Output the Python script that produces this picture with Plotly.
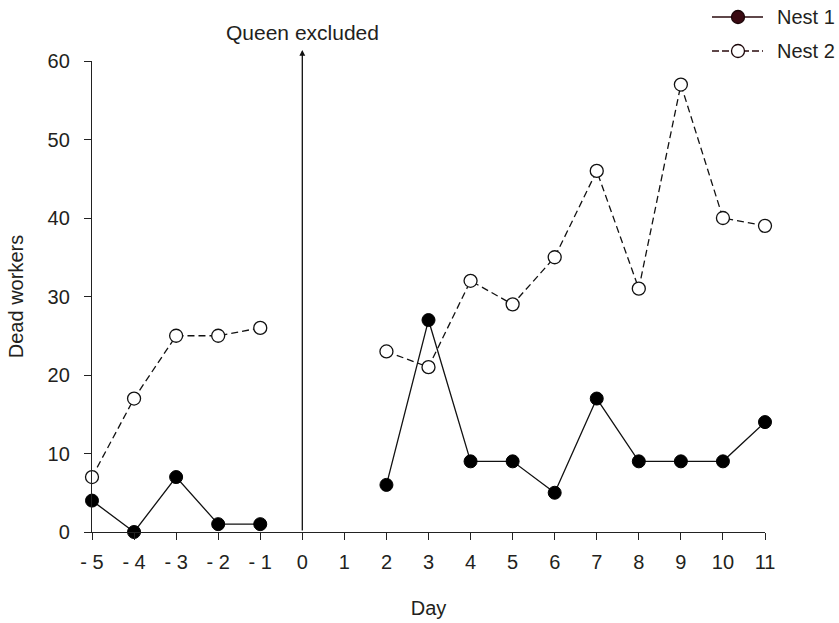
import plotly.graph_objects as go

days = [-5, -4, -3, -2, -1, 0, 1, 2, 3, 4, 5, 6, 7, 8, 9, 10, 11]
nest1 = [4, 0, 7, 1, 1, None, None, 6, 27, 9, 9, 5, 17, 9, 9, 9, 14]
nest2 = [7, 17, 25, 25, 26, None, None, 23, 21, 32, 29, 35, 46, 31, 57, 40, 39]
tick_vals = [-5, -4, -3, -2, -1, 0, 1, 2, 3, 4, 5, 6, 7, 8, 9, 10, 11]
tick_text = ["- 5", "- 4", "- 3", "- 2", "- 1", "0", "1", "2", "3", "4", "5", "6", "7", "8", "9", "10", "11"]
y_ticks = [0, 10, 20, 30, 40, 50, 60]
series_names = ["Nest 1", "Nest 2"]
event_day = 0
event_label = "Queen excluded"

W, H = 839, 623
ML, MR, MT, MB = 92, 74, 61, 91
plot_w = W - ML - MR
plot_h = H - MT - MB


def px_x(px):
    return (px - ML) / plot_w


def px_y(py):
    return (H - MB - py) / plot_h


FONT = "Liberation Sans, Arial, sans-serif"
TXT = "#231f20"
FS = 20

fig = go.Figure()

fig.add_trace(go.Scatter(
    x=days, y=nest2, mode="lines+markers", name=series_names[1], showlegend=False,
    line=dict(color="#111111", width=1.3, dash="7px,4px"),
    marker=dict(symbol="circle", size=13, color="white", line=dict(color="#111111", width=1.3)),
    cliponaxis=False, connectgaps=False))
fig.add_trace(go.Scatter(
    x=days, y=nest1, mode="lines+markers", name=series_names[0], showlegend=False,
    line=dict(color="#111111", width=1.3),
    marker=dict(symbol="circle", size=13, color="black", line=dict(color="black", width=1)),
    cliponaxis=False, connectgaps=False))

# legend (drawn as shapes + text so it does not push the plot margins)
leg_rows = [17, 51]
leg_styles = [
    dict(dash="solid", fill="#3a0a12"),
    dict(dash="7px,3px", fill="white"),
]
for name, row, st in zip(series_names, leg_rows, leg_styles):
    fig.add_shape(type="line", xref="paper", yref="paper",
                  x0=px_x(712), x1=px_x(763), y0=px_y(row), y1=px_y(row),
                  line=dict(color="#2a0a0e", width=1.3, dash=st["dash"]))
    fig.add_shape(type="circle", xref="paper", yref="paper",
                  xsizemode="pixel", ysizemode="pixel",
                  xanchor=px_x(738), yanchor=px_y(row), x0=-6.5, x1=6.5, y0=-6.5, y1=6.5,
                  fillcolor=st["fill"], line=dict(color="#1a0508", width=1.3))
    fig.add_annotation(x=px_x(775), y=px_y(row), xref="paper", yref="paper", text=name,
                       showarrow=False, xanchor="left", yanchor="middle",
                       font=dict(family=FONT, size=FS, color=TXT))

# event arrow (tip slightly above the top of the y axis) and label
tip_px = 50
fig.add_annotation(x=event_day, y=px_y(tip_px), xref="x", yref="paper",
                   ax=0, ay=(H - MB) - tip_px, axref="pixel", ayref="pixel",
                   text="", showarrow=True, arrowhead=2, arrowsize=0.9, arrowwidth=1.3,
                   arrowcolor="#111111", standoff=0, startstandoff=0)
fig.add_annotation(x=event_day, y=px_y(32), xref="x", yref="paper", text=event_label,
                   showarrow=False, font=dict(family=FONT, size=21, color=TXT),
                   xanchor="center", yanchor="middle")

fig.update_xaxes(range=[-5, 11], tickvals=tick_vals, ticktext=tick_text,
                 showline=True, linecolor="#222222", linewidth=1.3, ticks="outside", ticklen=7,
                 tickwidth=1.3, tickcolor="#222222", showgrid=False, zeroline=False,
                 tickfont=dict(family=FONT, size=FS, color=TXT), ticklabelstandoff=5,
                 automargin=False,
                 title=dict(text="Day", font=dict(family=FONT, size=FS, color=TXT), standoff=28))
fig.update_yaxes(range=[0, 60], tickvals=y_ticks, showline=True, linecolor="#222222", linewidth=1.3,
                 ticks="outside", ticklen=7, tickwidth=1.3, tickcolor="#222222", showgrid=False,
                 zeroline=False, tickfont=dict(family=FONT, size=FS, color=TXT), ticklabelstandoff=10,
                 automargin=False,
                 title=dict(text="Dead workers", font=dict(family=FONT, size=FS, color=TXT), standoff=18))

fig.update_layout(
    width=W, height=H, margin=dict(l=ML, r=MR, t=MT, b=MB),
    paper_bgcolor="white", plot_bgcolor="white",
    font=dict(family=FONT, size=FS, color=TXT),
    showlegend=False,
)

fig.write_html("out.html", config={"displayModeBar": False},
               post_script="document.body.style.margin='0';document.body.style.overflow='hidden';")
